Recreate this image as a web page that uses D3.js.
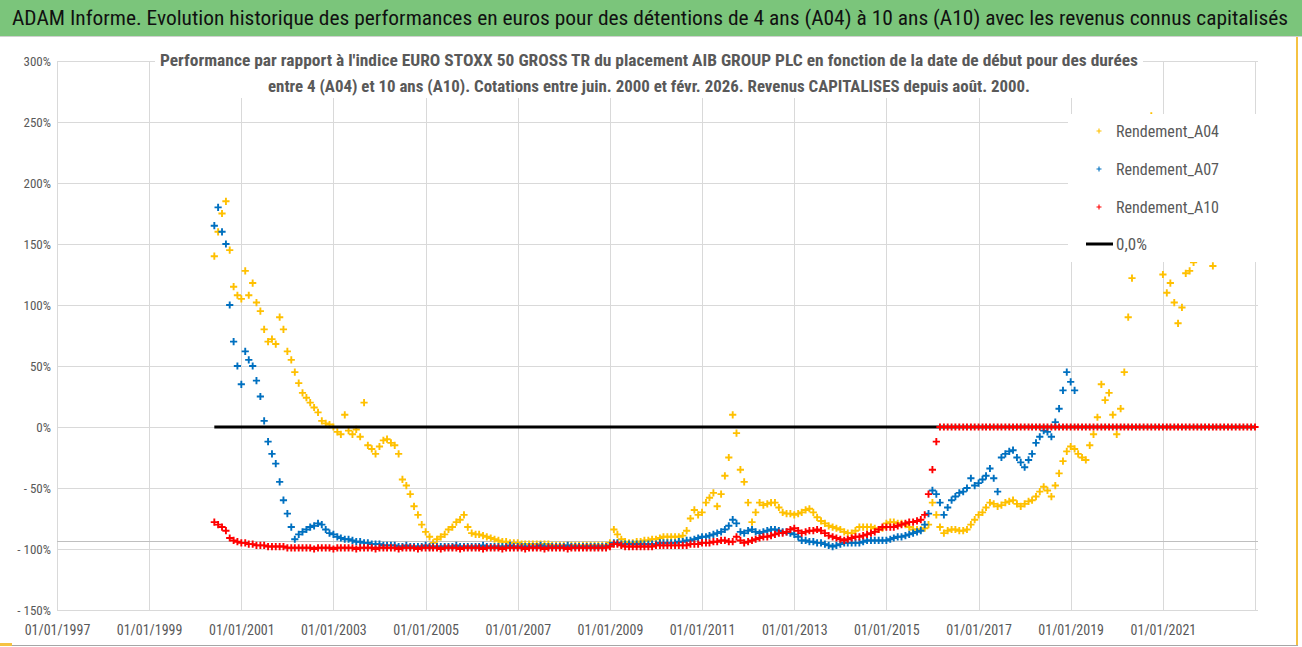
<!DOCTYPE html>
<html><head><meta charset="utf-8">
<script src="https://cdn.jsdelivr.net/npm/d3@7"></script>
<style>body{margin:0;background:#fff;} svg{display:block;}</style>
</head><body>
<svg id="c" width="1302" height="647"></svg>
<script>
// ---------- texts ----------
const titleText = "ADAM Informe. Evolution historique des performances en euros pour des détentions de 4 ans (A04) à 10 ans (A10) avec les revenus connus capitalisés";
const subtitleLines = [
  "Performance par rapport à l'indice EURO STOXX 50 GROSS TR  du placement AIB GROUP PLC en fonction de la date de début pour des durées",
  "entre 4 (A04) et 10 ans (A10). Cotations entre juin. 2000 et févr. 2026. Revenus CAPITALISES depuis août. 2000."
];
const seriesNames = ["Rendement_A04", "Rendement_A07", "Rendement_A10"];
const zeroLabel = "0,0%";
const yTicks = [300, 250, 200, 150, 100, 50, 0, -50, -100, -150];
const xTickYears = [1997, 1999, 2001, 2003, 2005, 2007, 2009, 2011, 2013, 2015, 2017, 2019, 2021];
const xDomainYears = [1997, 2023];
const firstMonth = [2000, 5]; // monthly values start June 2000
const zeroLevel = 0;
const refLevel = -93.5;

// ---------- series values (%), one per month from June 2000 ----------
const a04 = [
  140,160,175,185,145,115,108,105,128,108,118,102,
  95,80,70,72,68,90,80,62,55,45,36,28,
  24,20,16,12,5,3,2,0,-4,-6,10,-3,
  -6,-2,-8,20,-15,-18,-22,-16,-11,-10,-13,-15,
  -22,-43,-48,-55,-65,-72,-80,-86,-90,-95,-92,-90,
  -88,-84,-82,-78,-76,-72,-82,-87,-88,-88,-89,-90,
  -91,-92,-93,-94,-94,-95,-95,-95,-96,-96,-96,-96,
  -96,-96,-96,-96,-97,-97,-97,-97,-97,-97,-97,-97,
  -97,-97,-97,-97,-97,-97,-97,-95,-84,-88,-92,-94,
  -95,-95,-94,-94,-93,-93,-92,-92,-91,-90,-90,-90,
  -90,-90,-89,-85,-75,-68,-72,-70,-62,-58,-54,-65,
  -55,-40,-25,10,-5,-35,-45,-62,-78,-70,-62,-64,
  -63,-62,-62,-66,-70,-71,-71,-72,-71,-70,-68,-67,
  -70,-74,-77,-79,-81,-82,-83,-84,-86,-87,-87,-85,
  -82,-82,-82,-82,-83,-84,-83,-79,-78,-78,-79,-79,
  -80,-82,-84,-84,-84,-83,-80,-62,-72,-82,-87,-85,
  -84,-84,-85,-85,-84,-80,-76,-72,-70,-66,-62,-63,
  -65,-64,-62,-61,-60,-63,-65,-63,-61,-60,-57,-53,
  -49,-52,-57,-48,-38,-28,-20,-16,-18,-22,-25,-27,
  -15,-6,8,35,22,28,10,-6,15,45,90,122,
  140,175,210,240,255,200,140,125,110,118,102,85,
  98,126,128,135,140,150,160,145,132
];
const a07 = [
  165,180,160,150,100,70,50,35,62,55,50,38,
  25,5,-12,-22,-30,-45,-60,-71,-82,-92,-88,-86,
  -84,-82,-81,-79,-80,-84,-87,-88,-90,-91,-92,-92,
  -93,-94,-94,-95,-95,-96,-96,-96,-97,-97,-97,-97,
  -98,-98,-97,-98,-98,-98,-98,-97,-98,-98,-98,-98,
  -98,-98,-98,-97,-98,-98,-98,-98,-98,-98,-97,-98,
  -98,-98,-98,-98,-98,-97,-98,-98,-98,-98,-98,-98,
  -98,-97,-98,-98,-98,-98,-98,-98,-97,-98,-98,-98,
  -98,-98,-98,-98,-98,-98,-98,-97,-95,-95,-96,-96,
  -96,-96,-96,-96,-96,-96,-96,-96,-95,-95,-95,-95,
  -95,-94,-94,-93,-93,-92,-91,-90,-90,-89,-88,-87,
  -86,-84,-81,-76,-79,-86,-87,-85,-84,-86,-87,-86,
  -85,-84,-84,-85,-86,-86,-87,-88,-90,-93,-93,-94,
  -94,-95,-95,-96,-97,-98,-97,-96,-95,-95,-95,-95,
  -95,-94,-93,-93,-93,-93,-93,-93,-92,-91,-90,-90,
  -89,-88,-87,-86,-85,-80,-71,-52,-55,-62,-72,-66,
  -60,-57,-54,-53,-50,-42,-48,-46,-43,-40,-34,-42,
  -53,-25,-22,-20,-19,-25,-29,-33,-27,-22,-13,-8,
  -3,-4,-8,4,15,30,45,37,30
];
const a10 = [
  -78,-80,-82,-85,-91,-93,-94,-95,-95,-96,-96,-97,
  -97,-97,-98,-98,-98,-98,-98,-99,-99,-99,-99,-99,
  -99,-99,-100,-99,-99,-99,-99,-100,-99,-99,-99,-99,
  -99,-100,-99,-99,-99,-99,-100,-99,-99,-99,-99,-99,
  -100,-99,-99,-99,-99,-100,-99,-99,-99,-99,-99,-100,
  -99,-99,-99,-99,-100,-99,-99,-99,-99,-99,-100,-99,
  -99,-99,-99,-100,-99,-99,-99,-99,-99,-100,-99,-99,
  -99,-99,-100,-99,-99,-99,-99,-99,-100,-99,-99,-99,
  -99,-99,-99,-99,-99,-99,-99,-98,-96,-96,-97,-98,
  -98,-98,-98,-98,-98,-98,-98,-97,-97,-97,-97,-97,
  -97,-97,-97,-97,-96,-96,-96,-95,-95,-95,-94,-94,
  -93,-93,-94,-94,-90,-93,-95,-94,-93,-92,-91,-90,
  -90,-89,-88,-87,-87,-86,-84,-83,-85,-87,-86,-85,
  -85,-84,-85,-87,-89,-90,-91,-92,-93,-92,-91,-90,
  -90,-89,-88,-87,-86,-84,-82,-82,-82,-82,-81,-80,
  -79,-78,-78,-77,-76,-72,-55,-35,-12,0,0,0,
  0,0,0,0,0,0,0,0,0,0,0,0,
  0,0,0,0,0,0,0,0,0,0,0,0,
  0,0,0,0,0,0,0,0,0,0,0,0,
  0,0,0,0,0,0,0,0,0,0,0,0,
  0,0,0,0,0,0,0,0,0,0,0,0,
  0,0,0,0,0,0,0,0,0,0,0,0,
  0,0,0,0,0,0,0,0
];

// ---------- drawing ----------
const W = 1302, H = 647;
const colors = ["#FFC000", "#0070C0", "#FF0000"];
const grid = "#D9D9D9", textGray = "#595959";
const font = "'Liberation Sans Narrow','Roboto Condensed','DejaVu Sans Condensed','Liberation Sans',sans-serif";
const svg = d3.select("#c");

const x = d3.scaleTime()
  .domain([new Date(xDomainYears[0], 0, 1), new Date(xDomainYears[1], 0, 1)])
  .range([57, 1255]);
const y = d3.scaleLinear().domain([-150, 300]).range([610, 61]);

const monthDate = i => new Date(firstMonth[0], firstMonth[1] + i, 1);
const toPts = arr => arr.map((v, i) => ({ date: monthDate(i), v }));
const series = [a04, a07, a10].map(toPts);
const lastDate = monthDate(a10.length - 1);

svg.append("rect").attr("width", W).attr("height", H).attr("fill", "#fff");

// title bar
svg.append("rect").attr("x", 0).attr("y", 0).attr("width", W).attr("height", 36)
  .attr("fill", "#7BC57B");
svg.append("line").attr("x1", 0).attr("x2", W).attr("y1", 36.5).attr("y2", 36.5)
  .attr("stroke", "#D0D0D0");
svg.append("text").attr("x", 12).attr("y", 25)
  .attr("font-family", font).attr("font-size", 20).attr("fill", "#111")
  .attr("textLength", 1276).attr("lengthAdjust", "spacingAndGlyphs")
  .text(titleText);

// gridlines
const gGrid = svg.append("g");
gGrid.selectAll("line.h").data(yTicks).join("line")
  .attr("x1", 57).attr("x2", 1258)
  .attr("y1", d => Math.round(y(d)) + 0.5).attr("y2", d => Math.round(y(d)) + 0.5)
  .attr("stroke", grid).attr("stroke-width", 1);
gGrid.selectAll("line.v").data(xTickYears.concat([xDomainYears[1]])).join("line")
  .attr("x1", d => Math.round(x(new Date(d, 0, 1))) + 0.5)
  .attr("x2", d => Math.round(x(new Date(d, 0, 1))) + 0.5)
  .attr("y1", y(300)).attr("y2", y(-150))
  .attr("stroke", grid).attr("stroke-width", 1);
// reference line
svg.append("line").attr("x1", 57).attr("x2", 1258)
  .attr("y1", Math.round(y(refLevel)) + 0.5).attr("y2", Math.round(y(refLevel)) + 0.5)
  .attr("stroke", "#BFBFBF").attr("stroke-width", 1.2);

// markers
const plus = (d, s) => `M${x(d.date) - s},${y(d.v)}h${2 * s}M${x(d.date)},${y(d.v) - s}v${2 * s}`;
function drawSeries(k) {
  svg.append("g").selectAll("path").data(series[k]).join("path")
    .attr("d", d => plus(d, 3.6))
    .attr("stroke", colors[k]).attr("stroke-width", 1.9).attr("fill", "none");
}
drawSeries(0);
// zero line
svg.append("line")
  .attr("x1", x(monthDate(0))).attr("x2", x(lastDate))
  .attr("y1", y(zeroLevel)).attr("y2", y(zeroLevel))
  .attr("stroke", "#000").attr("stroke-width", 3);
drawSeries(1);
drawSeries(2);

// subtitle box
svg.append("rect").attr("x", 155).attr("y", 44).attr("width", 988).attr("height", 54).attr("fill", "#fff");
subtitleLines.forEach((t, i) => {
  const widths = [978, 762];
  svg.append("text").attr("x", 649).attr("y", 66 + i * 26)
    .attr("text-anchor", "middle")
    .attr("font-family", font).attr("font-size", 16).attr("font-weight", "bold")
    .attr("fill", textGray)
    .attr("textLength", widths[i]).attr("lengthAdjust", "spacingAndGlyphs")
    .text(t);
});

// legend
const lg = svg.append("g");
lg.append("rect").attr("x", 1068).attr("y", 114).attr("width", 190).attr("height", 148).attr("fill", "#fff");
const legY = [131, 169, 207, 244];
seriesNames.forEach((n, k) => {
  lg.append("path")
    .attr("d", `M${1099 - 2.5},${legY[k]}h5M${1099},${legY[k] - 2.5}v5`)
    .attr("stroke", colors[k]).attr("stroke-width", 1.1);
  lg.append("text").attr("x", 1116).attr("y", legY[k] + 6)
    .attr("font-family", font).attr("font-size", 17).attr("fill", textGray)
    .attr("textLength", 103).attr("lengthAdjust", "spacingAndGlyphs")
    .text(n);
});
lg.append("line").attr("x1", 1086).attr("x2", 1113).attr("y1", legY[3]).attr("y2", legY[3])
  .attr("stroke", "#000").attr("stroke-width", 3);
lg.append("text").attr("x", 1116).attr("y", legY[3] + 6)
  .attr("font-family", font).attr("font-size", 17).attr("fill", textGray)
  .text(zeroLabel);

// axes (labels only)
const fmtY = v => v < 0 ? "- " + (-v) + "%" : v + "%";
const yAxis = svg.append("g").attr("transform", "translate(51,0)")
  .call(d3.axisLeft(y).tickValues(yTicks).tickFormat(fmtY).tickSize(0).tickPadding(0));
yAxis.select(".domain").remove();
yAxis.selectAll("text").attr("font-family", font).attr("font-size", 13).attr("fill", textGray);

const fmtX = d3.timeFormat("%d/%m/%Y");
const xAxis = svg.append("g").attr("transform", "translate(0,625)")
  .call(d3.axisBottom(x).tickValues(xTickYears.map(yr => new Date(yr, 0, 1))).tickFormat(fmtX).tickSize(0).tickPadding(0));
xAxis.select(".domain").remove();
xAxis.selectAll("text").attr("font-family", font).attr("font-size", 14).attr("fill", textGray);

// frame
svg.append("line").attr("x1", 0).attr("x2", 1298).attr("y1", 645.5).attr("y2", 645.5).attr("stroke", "#A6A6A6");
svg.append("line").attr("x1", 1297).attr("x2", 1297).attr("y1", 37).attr("y2", 645).attr("stroke", "#F5C242").attr("stroke-width", 2);
svg.append("rect").attr("x", 0).attr("y", 643).attr("width", 12).attr("height", 3).attr("fill", "#F5C242");
</script>
</body></html>
